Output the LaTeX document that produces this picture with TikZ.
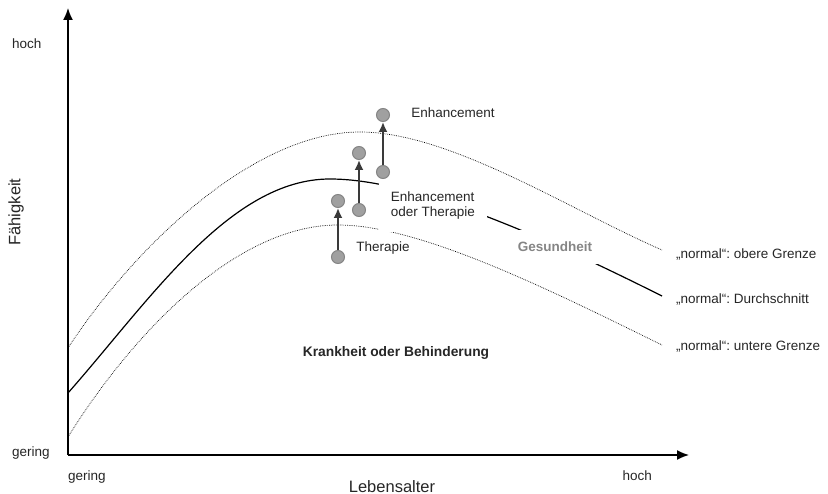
\documentclass[tikz,border=0pt]{standalone}
\usepackage{fontspec}
\setmainfont{Liberation Sans}
\usetikzlibrary{arrows.meta}

\definecolor{punktgrau}{HTML}{A0A0A0}
\definecolor{randgrau}{HTML}{858585}
\definecolor{pfeilgrau}{HTML}{3A3A3A}
\definecolor{schrift}{HTML}{262626}

\begin{document}
\frenchspacing
\begin{tikzpicture}[x=1pt, y=-1pt, font=\fontsize{13.5}{16}\selectfont, text=schrift,
	txt/.style={inner sep=0pt},
	gross/.style={inner sep=0pt, font=\fontsize{16.5}{20}\selectfont},
	kasten/.style={fill=white, inner sep=12pt},
	punkt/.style={circle, draw=randgrau, line width=1pt, fill=punktgrau, minimum size=13pt, inner sep=0pt},
	pfeil/.style={draw=pfeilgrau, line width=1.8pt, -{Latex[length=10pt, width=9pt]}},
	achse/.style={line width=1.5pt, -{Latex[length=12pt, width=10pt]}},
	grenze/.style={line width=0.7pt, dash pattern=on 0.7pt off 1.1pt},
	schnitt/.style={line width=1.2pt}]
	\useasboundingbox (0,0) rectangle (828,494);

	% Achsen
	\coordinate (ursprung) at (68,455);
	\coordinate (yende) at (68,8);
	\coordinate (xende) at (689,455);
	\draw [achse] (ursprung) -- (yende);
	\draw [achse] (ursprung) -- (xende);
	\node [txt, anchor=west] (yhoch) at (12,44) {hoch};
	\node [txt, anchor=west] (ygering) at (12,453) {gering};
	\node [gross, rotate=90] (ytitel) at (16,212) {Fähigkeit};
	\node [txt, anchor=west] (xgering) at (68,477) {gering};
	\node [txt, anchor=east] (xhoch) at (652,476) {hoch};
	\node [gross, anchor=base] (xtitel) at (392,492) {Lebensalter};

	% Kurven
	\draw [grenze] (68,348) .. controls (130,253) and (250,132) .. (360,132) .. controls (450,132) and (570,210) .. (662,250);
	\draw [schnitt] (68,393) .. controls (150,300) and (230,179) .. (330,179) .. controls (420,179) and (560,245) .. (662,296);
	\draw [grenze] (68,437) .. controls (125,345) and (230,225) .. (338,225) .. controls (420,225) and (550,290) .. (662,345);

	% Beschriftung der Bereiche
	\node [kasten, align=left] (eot) at (433,206) {Enhancement\\[-1pt]oder Therapie};
	\node [kasten, text=randgrau, font=\fontsize{13.5}{16}\selectfont\bfseries] (gesund) at (555,247) {Gesundheit};
	\node [txt, font=\fontsize{13.8}{16}\selectfont\bfseries] (krank) at (396,353) {Krankheit oder Behinderung};
	\node [txt, anchor=west] (obere) at (676,254) {„normal“: obere Grenze};
	\node [txt, anchor=west] (mitte) at (676,299) {„normal“: Durchschnitt};
	\node [txt, anchor=west] (untere) at (676,346) {„normal“: untere Grenze};

	% Punkte und Pfeile
	\node [punkt] (t1) at (338,257) {};
	\node [punkt] (t2) at (338,201) {};
	\node [punkt] (e1) at (359,210) {};
	\node [punkt] (e2) at (359,153) {};
	\node [punkt] (h1) at (383,172) {};
	\node [punkt] (h2) at (383,115) {};
	\draw [pfeil] (t1) -- (t2);
	\draw [pfeil] (e1) -- (e2);
	\draw [pfeil] (h1) -- (h2);
	\node [txt] (therapie) at (383,248) {Therapie};
	\node [txt] (enh) at (453,113) {Enhancement};
\end{tikzpicture}
\end{document}
